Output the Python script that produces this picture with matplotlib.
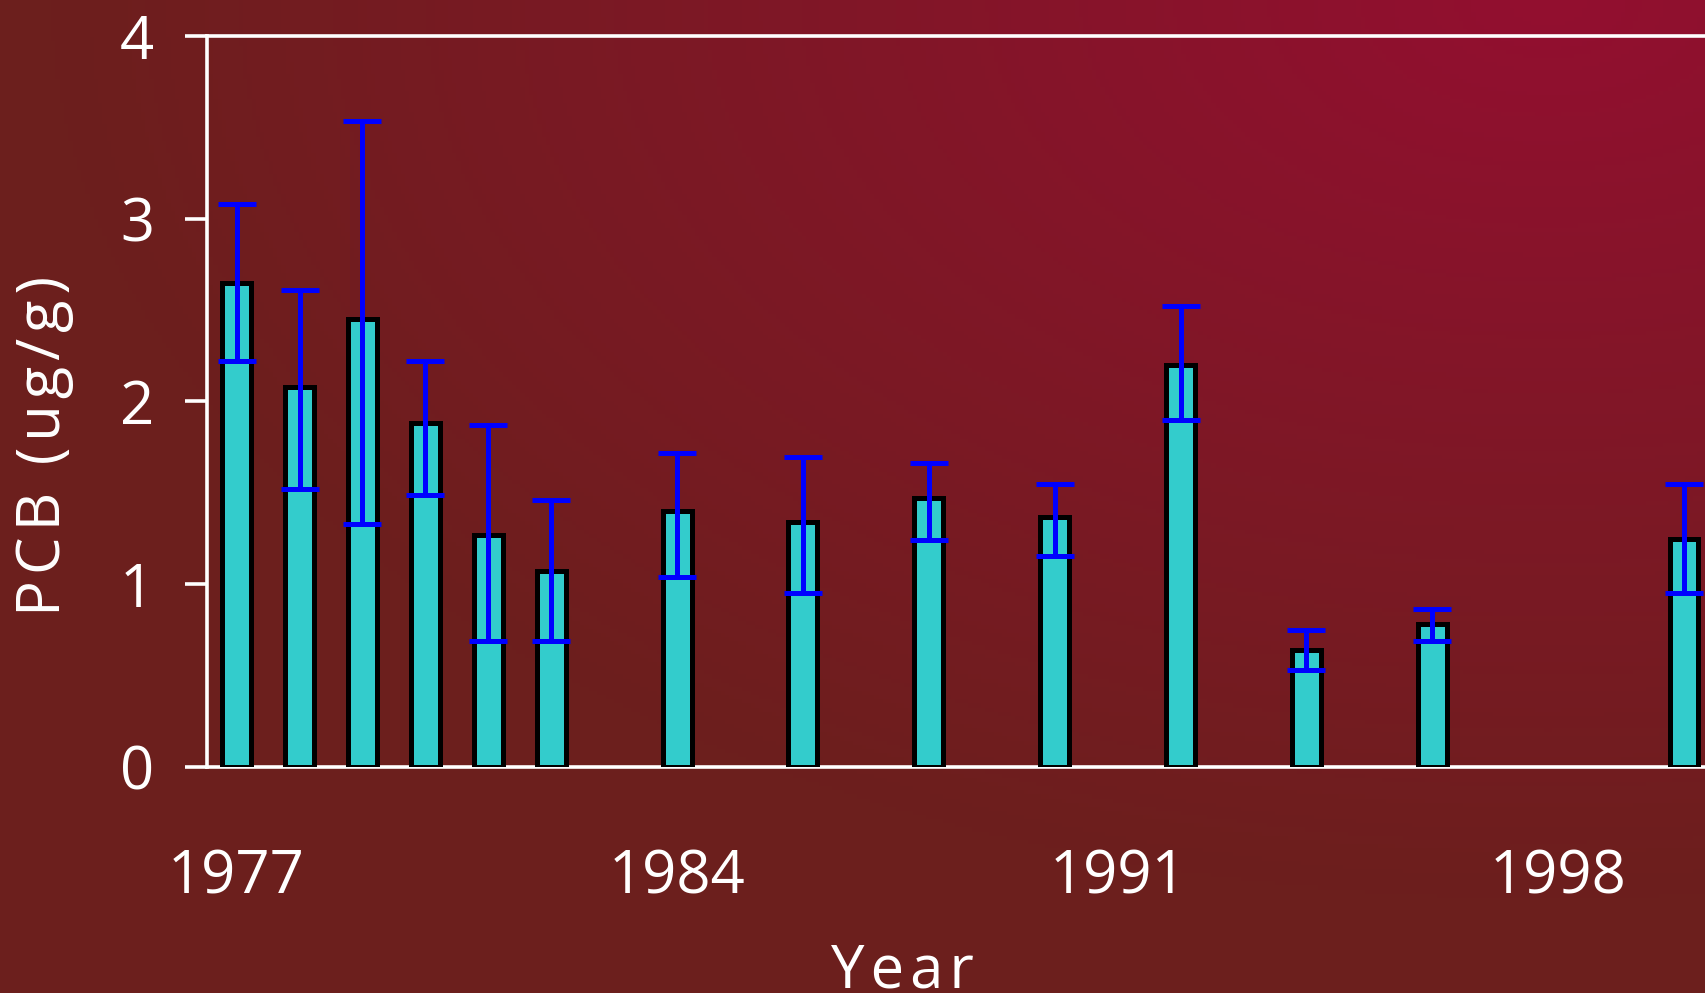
import numpy as np
import matplotlib
matplotlib.use("Agg")
import matplotlib.pyplot as plt

# PCB concentrations by year, with error bar ends
years = [1977, 1978, 1979, 1980, 1981, 1982, 1984, 1986, 1988, 1990, 1992, 1994, 1996, 2000]
pcb = [2.65, 2.08, 2.45, 1.88, 1.27, 1.07, 1.40, 1.34, 1.47, 1.37, 2.20, 0.64, 0.78, 1.25]
err_low = [2.22, 1.52, 1.33, 1.49, 0.69, 0.69, 1.04, 0.95, 1.24, 1.155, 1.90, 0.53, 0.69, 0.95]
err_high = [3.08, 2.61, 3.535, 2.22, 1.87, 1.46, 1.72, 1.695, 1.665, 1.55, 2.525, 0.75, 0.865, 1.55]
xticks = [1977, 1984, 1991, 1998]
yticks = [0, 1, 2, 3, 4]

plt.rcParams['font.family'] = ['Open Sans', 'DejaVu Sans']

W, H = 1706, 993
fig = plt.figure(figsize=(W / 100, H / 100), dpi=100)

# background gradient: brown, crimson towards the top right
brown = np.array([0x6C, 0x1F, 0x1D]) / 255
crimson = np.array([0x93, 0x0F, 0x30]) / 255
gx, gy = np.meshgrid(np.linspace(0, W, 400), np.linspace(0, H, 240))
t = np.clip(1 - np.hypot((gx - 1550) / 1500, gy / 900), 0, 1)
img = brown[None, None, :] * (1 - t[..., None]) + crimson[None, None, :] * t[..., None]
bg = fig.add_axes([0, 0, 1, 1], zorder=-1)
bg.imshow(img, aspect='auto', extent=[0, 1, 0, 1], origin='upper')
bg.axis('off')

ax = fig.add_axes([207 / W, (H - 767) / H, (W - 207) / W, (767 - 36) / H])
ax.patch.set_alpha(0)

pcb_a = np.array(pcb)
yerr = [pcb_a - np.array(err_low), np.array(err_high) - pcb_a]
ax.bar(years, pcb, width=0.46, color='#33CCCC', edgecolor='black', linewidth=3.6, zorder=3)
ax.errorbar(years, pcb, yerr=yerr, fmt='none', ecolor='#0000FF', elinewidth=3.6,
            capsize=14, capthick=3.6, zorder=4)

ax.set_xlim(1976.53, 2000.35)
ax.set_ylim(0, 4)
ax.set_xticks(xticks)
ax.set_yticks(yticks)
ax.tick_params(axis='x', length=0, pad=58, labelsize=43, labelcolor='white')
ax.tick_params(axis='y', length=16, width=2.6, color='white', pad=22, labelsize=43, labelcolor='white')

for s in ['left', 'top', 'bottom']:
    ax.spines[s].set_color('white')
    ax.spines[s].set_linewidth(2.6)
ax.spines['right'].set_visible(False)

hs = '\u200a'  # hair space for the spaced-out letters
fig.text(44 / W, 1 - 446 / H, hs.join('PCB (ug/g)'), rotation=90, ha='center', va='center',
         fontsize=43, color='white')
fig.text(902 / W, 1 - 988 / H, hs.join('Year'), ha='center', va='baseline', fontsize=43, color='white')

fig.savefig('out.png', dpi=100)
